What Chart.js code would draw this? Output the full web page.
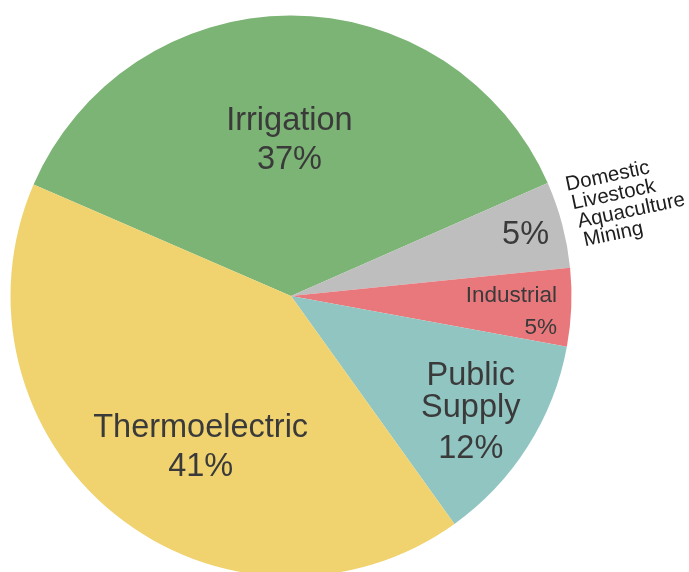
<!DOCTYPE html>
<html>
<head>
<meta charset="utf-8">
<script src="https://cdn.jsdelivr.net/npm/chart.js@4/dist/chart.umd.min.js"></script>
<style>
html,body{margin:0;padding:0;background:#fff;overflow:hidden;}
#wrap{position:absolute;left:0;top:0;width:689px;height:600px;}
</style>
</head>
<body>
<div id="wrap"><canvas id="c"></canvas></div>
<script>
// ---- data ----
const categories = ['Irrigation', 'Domestic, Livestock, Aquaculture, Mining', 'Industrial', 'Public Supply', 'Thermoelectric'];
const values = [36.9, 5.0, 4.5, 12.2, 41.4];
const percentLabels = ['37%', '5%', '5%', '12%', '41%'];
const nameLines = [['Irrigation'], [], ['Industrial'], ['Public', 'Supply'], ['Thermoelectric']];
const outsideLines = ['Domestic', 'Livestock', 'Aquaculture', 'Mining'];
const colors = ['#7bb474', '#bebebe', '#e8787b', '#90c5c1', '#f0d36f'];

// ---- label styles (per slice) ----
const labelStyle = [
  {frac: 0.561, dAng: -0.4, size: 32.5, align: 'center', offs: [-8.5, 30.5]},
  {frac: 0.866, dAng: -0.3, size: 32.5, align: 'center', offs: [11]},
  {frac: 0.95,  dAng: 0.85, size: 22.5, align: 'right',  offs: [-8.5, 23.5]},
  {frac: 0.759, dAng: 0,    size: 32.5, align: 'center', offs: [-25.5, 6.5, 47.5]},
  {frac: 0.623, dAng: -7.75,size: 32.5, align: 'center', offs: [-8.5, 30.5]}
];
const FONT = '"Liberation Sans", Arial, Helvetica, sans-serif';

const labelPlugin = {
  id: 'sliceLabels',
  afterDatasetsDraw(chart) {
    const ctx = chart.ctx;
    const meta = chart.getDatasetMeta(0);
    meta.data.forEach((arc, i) => {
      const p = arc.getProps(['x', 'y', 'startAngle', 'endAngle', 'outerRadius'], true);
      const st = labelStyle[i];
      const mid = (p.startAngle + p.endAngle) / 2 + st.dAng * Math.PI / 180;
      const ax = p.x + Math.cos(mid) * p.outerRadius * st.frac;
      const ay = p.y + Math.sin(mid) * p.outerRadius * st.frac;
      const lines = nameLines[i].concat([percentLabels[i]]);
      ctx.save();
      ctx.fillStyle = '#3a3a3a';
      ctx.font = st.size + 'px ' + FONT;
      ctx.textAlign = st.align;
      ctx.textBaseline = 'alphabetic';
      lines.forEach((t, k) => ctx.fillText(t, ax, ay + st.offs[k]));
      ctx.restore();
      if (i === 1) {
        // outside label for the grouped small categories
        const oAng = p.startAngle + (-20.8 + 23.7) * Math.PI / 180;
        const ox = p.x + Math.cos(oAng) * p.outerRadius * 1.053;
        const oy = p.y + Math.sin(oAng) * p.outerRadius * 1.053;
        outsideLines.forEach((t, k) => {
          ctx.save();
          ctx.translate(ox + k * 6, oy + k * 18.5);
          ctx.rotate(-12 * Math.PI / 180);
          ctx.fillStyle = '#1e1e1e';
          ctx.font = '20.5px ' + FONT;
          ctx.textAlign = 'left';
          ctx.textBaseline = 'alphabetic';
          ctx.fillText(t, 0, 0);
          ctx.restore();
        });
      }
    });
  }
};

new Chart(document.getElementById('c'), {
  type: 'pie',
  data: {
    labels: categories,
    datasets: [{
      data: values,
      backgroundColor: colors,
      borderWidth: 0,
      hoverOffset: 0
    }]
  },
  options: {
    responsive: true,
    maintainAspectRatio: false,
    animation: false,
    rotation: -66.6,
    layout: {padding: {left: 10.5, top: 15.5, right: 117.5, bottom: 23.5}},
    plugins: {legend: {display: false}, tooltip: {enabled: false}}
  },
  plugins: [labelPlugin]
});
</script>
</body>
</html>
